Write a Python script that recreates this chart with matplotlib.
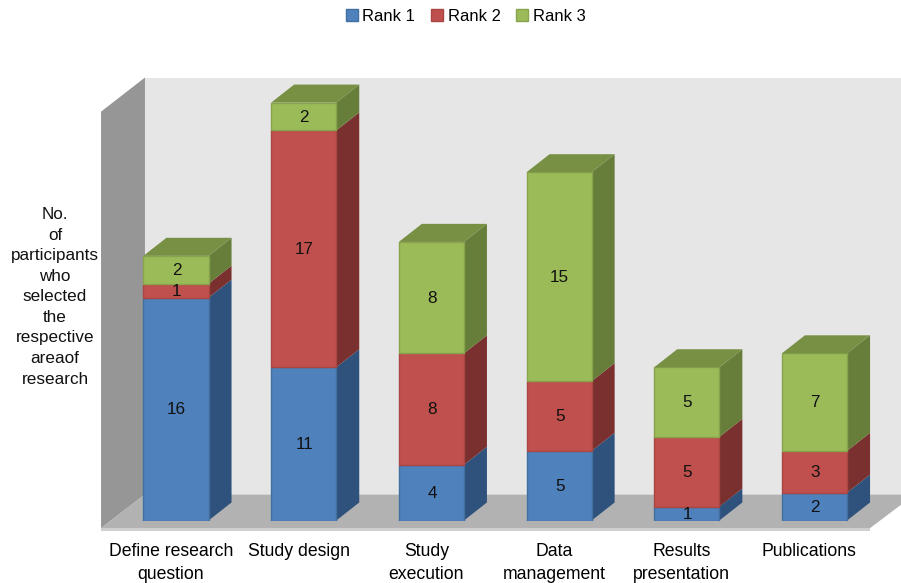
import numpy as np
import matplotlib
matplotlib.use("Agg")
import matplotlib.pyplot as plt
from matplotlib.patches import Patch

plt.rcParams['font.family'] = ['Liberation Sans', 'DejaVu Sans']

categories = ["Define research\nquestion", "Study design", "Study\nexecution",
              "Data\nmanagement", "Results\npresentation", "Publications"]
rank1 = [16, 11, 4, 5, 1, 2]
rank2 = [1, 17, 8, 5, 5, 3]
rank3 = [2, 2, 8, 15, 5, 7]
series_names = ["Rank 1", "Rank 2", "Rank 3"]

front = ["#4F81BD", "#C0504D", "#9BBB59"]
edge = ["#41709F", "#A84643", "#87A34C"]
side = ["#2F527C", "#7A302E", "#667E3A"]
top = ["#3E6797", "#9A403E", "#789044"]

bar_w = 0.51
dx = 0.18
dy = 1.295
y_unit = 13.93

fig = plt.figure(figsize=(9.01, 5.83), dpi=100)
ax = fig.add_axes([0, 62.5 / 583, 1, 520.5 / 583])
ax.set_xlim(-176 / 127.7, 725 / 127.7)
ax.set_ylim(0, 520.5 / y_unit)

# walls and floor
wall_l, wall_b, wall_r = -0.587, -0.243, 5.68
wall_top, floor_back, floor_front = 31.8, 1.87, -0.55
ax.fill([wall_b, wall_r, wall_r, wall_b], [floor_back, floor_back, wall_top, wall_top],
        color="#E6E6E6", lw=0, zorder=1)
ax.fill([wall_l, wall_b, wall_b, wall_l], [floor_front, floor_back, wall_top, 29.35],
        color="#969696", lw=0, zorder=1, clip_on=False)
ax.fill([wall_l, wall_b, wall_r, wall_r, 5.435], [floor_front, floor_back, floor_back, 1.15, floor_front],
        color="#B2B2B2", lw=0, zorder=1, clip_on=False)
ax.fill([wall_l, 5.435, 5.435, wall_l], [floor_front, floor_front, floor_front - 0.2, floor_front - 0.2],
        color="#CFCFCF", lw=0, zorder=1, clip_on=False)

x = np.arange(len(categories))
bottom = np.zeros(len(categories))
for k, vals in enumerate([rank1, rank2, rank3]):
    for i, v in enumerate(vals):
        l = x[i] - bar_w / 2
        r = x[i] + bar_w / 2
        b = bottom[i]
        t = b + v
        ax.fill([r, r + dx, r + dx, r], [b, b + dy, t + dy, t], color=side[k], lw=0, zorder=3 + i)
        ax.fill([l, r, r, l], [b, b, t, t], facecolor=front[k], edgecolor=edge[k], lw=1, zorder=3 + i)
        if k == 2:
            ax.fill([l, r, r + dx, l + dx], [t, t, t + dy, t + dy], color=top[k], lw=0, zorder=3 + i)
        ax.text(x[i] + 0.004, b + v / 2 - 0.05, str(v), ha="center", va="center", fontsize=12.3,
                color="#111111", zorder=20)
    bottom += np.array(vals)

ax.set_xticks(x - 0.04)
ax.set_xticklabels(categories, fontsize=12.7, linespacing=1.42)
ax.tick_params(axis="x", length=0, pad=16.5)
ax.set_yticks([])
for s in ax.spines.values():
    s.set_visible(False)
ax.patch.set_visible(False)

ax.text(-0.947, 16.05, "No.\nof\nparticipants\nwho\nselected\nthe\nrespective\nareaof\nresearch",
        ha="center", va="center", fontsize=12.3, linespacing=1.46, color="#111111")

handles = [Patch(facecolor=f, edgecolor=e, label=n) for f, e, n in zip(front, edge, series_names)]
fig.legend(handles=handles, loc="upper center", bbox_to_anchor=(0.517, 1.01), ncol=3, frameon=False,
           fontsize=11.9, handlelength=0.72, handleheight=0.72, handletextpad=0.3, columnspacing=0.95)

fig.savefig("out.png", dpi=100)
